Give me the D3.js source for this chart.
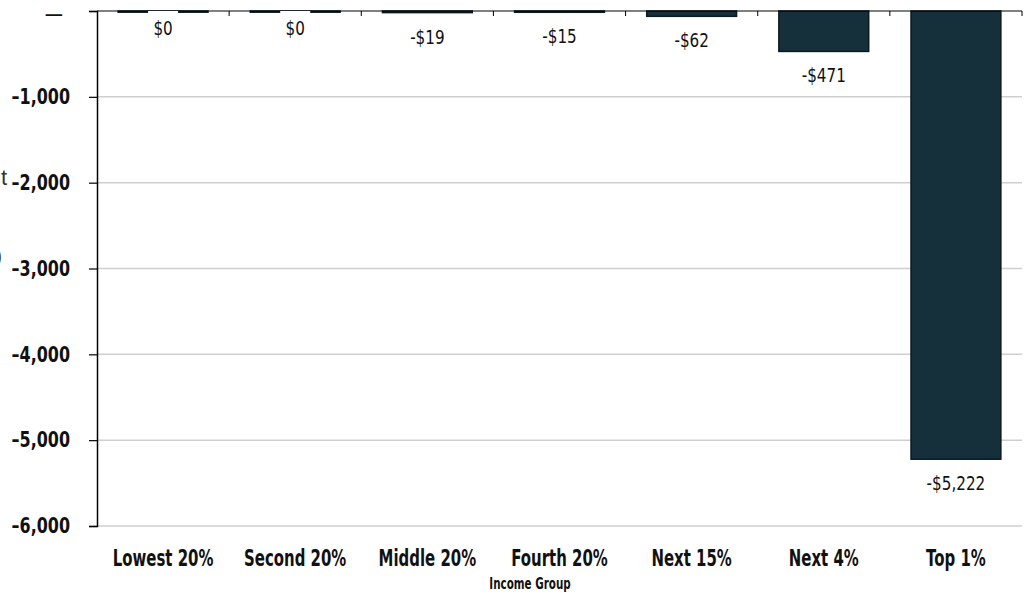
<!DOCTYPE html>
<html><head><meta charset="utf-8">
<script src="https://cdn.jsdelivr.net/npm/d3@7"></script>
<style>
body{margin:0;background:#fff;}
svg{display:block;}
.cond{font-family:'DejaVu Sans',sans-serif;}
</style></head>
<body><svg id="c" width="1026" height="594"></svg>
<script>
const categories = ["Lowest 20%","Second 20%","Middle 20%","Fourth 20%","Next 15%","Next 4%","Top 1%"];
const values = [0, 0, -19, -15, -62, -471, -5222];
const yTicks = [0, -1000, -2000, -3000, -4000, -5000, -6000];
const xTitle = "Income Group";
const yTitleLines = ["Average Tax Cut", "($)"];

const svg = d3.select("#c");
const L = 97, R = 1022, T = 11, B = 526;

const x = d3.scaleBand().domain(categories).range([L, R]).paddingInner(0.32).paddingOuter(0.16);
const y = d3.scaleLinear().domain([-6000, 0]).range([B, T]);

// gridlines
svg.append("g").selectAll("line").data(yTicks.filter(d => d !== 0)).join("line")
  .attr("x1", L).attr("x2", R).attr("y1", d => y(d)).attr("y2", d => y(d))
  .attr("stroke", "#cfcfcf").attr("stroke-width", 1.5);

// y axis
const tickSx = 0.76;
const yAxis = d3.axisLeft(y).tickValues(yTicks).tickSize(8).tickPadding(18)
  .tickFormat(d => d === 0 ? "—" : "\u2013" + d3.format(",")(Math.abs(d)));
const ya = svg.append("g").attr("transform", `translate(${L},0)`).call(yAxis);
ya.attr("font-family", null).attr("font-size", null);
ya.select(".domain").attr("stroke", "#000").attr("stroke-width", 1.5);
ya.selectAll(".tick line").attr("stroke", "#000").attr("stroke-width", 1.2);
ya.selectAll(".tick text").attr("class", "cond").attr("font-weight", "bold")
  .attr("font-size", 21).attr("fill", "#111")
  .attr("x", -27 / tickSx).attr("transform", `scale(${tickSx},1)`);
ya.selectAll(".tick text").filter(d => d === 0)
  .attr("x", -34 / tickSx).attr("font-weight", "normal").attr("font-size", 24)
  .attr("dy", "0.45em");

// bars
svg.append("g").selectAll("rect").data(values).join("rect")
  .attr("x", (d, i) => x(categories[i]))
  .attr("y", d => y(Math.max(0, d)))
  .attr("width", x.bandwidth())
  .attr("height", d => Math.max(1.2, Math.abs(y(d) - y(0))))
  .attr("fill", "#15303a").attr("stroke", "#0b1a1f").attr("stroke-width", 1.5);

// zero axis line with category separators
svg.append("line").attr("x1", L).attr("x2", R).attr("y1", y(0)).attr("y2", y(0))
  .attr("stroke", "#000").attr("stroke-width", 1);
svg.append("g").selectAll("line").data(d3.range(1, categories.length + 1)).join("line")
  .attr("x1", i => L + i * x.step()).attr("x2", i => L + i * x.step())
  .attr("y1", y(0)).attr("y2", y(0) + 5).attr("stroke", "#000").attr("stroke-width", 1);

// value labels
const lab = svg.append("g").selectAll("g").data(values).join("g")
  .attr("transform", (d, i) => `translate(${x(categories[i]) + x.bandwidth() / 2},${y(d) + (d === 0 ? 24 : 31)})`);
lab.filter(d => d === 0).append("rect")
  .attr("x", -15).attr("y", -24).attr("width", 30).attr("height", 30).attr("fill", "#fff");
lab.append("text").attr("text-anchor", "middle").attr("class", "cond")
  .attr("font-size", 19).attr("fill", "#111").attr("transform", "scale(0.8,1)")
  .text(d => (d < 0 ? "-$" : "$") + d3.format(",")(Math.abs(d)));

// category labels
svg.append("g").selectAll("text").data(categories).join("text")
  .attr("transform", d => `translate(${x(d) + x.bandwidth() / 2},566) scale(0.65,1)`)
  .attr("text-anchor", "middle").attr("class", "cond").attr("font-weight", "bold")
  .attr("font-size", 23).attr("fill", "#111").text(d => d);

svg.append("text").attr("transform", "translate(530,589) scale(0.69,1)").attr("text-anchor", "middle")
  .attr("class", "cond").attr("font-weight", "bold").attr("font-size", 15)
  .attr("fill", "#111").text(xTitle);

// y title (cropped at left edge, as in the reference)
svg.append("text").attr("x", 7).attr("y", 185).attr("text-anchor", "end")
  .attr("font-family", "'Liberation Sans','DejaVu Sans',sans-serif").attr("font-size", 22)
  .attr("fill", "#333").text(yTitleLines[0]);
svg.append("text").attr("x", 2).attr("y", 263).attr("text-anchor", "end")
  .attr("font-family", "'Liberation Sans','DejaVu Sans',sans-serif").attr("font-size", 22)
  .attr("fill", "#333").text(yTitleLines[1]);
</script></body></html>
